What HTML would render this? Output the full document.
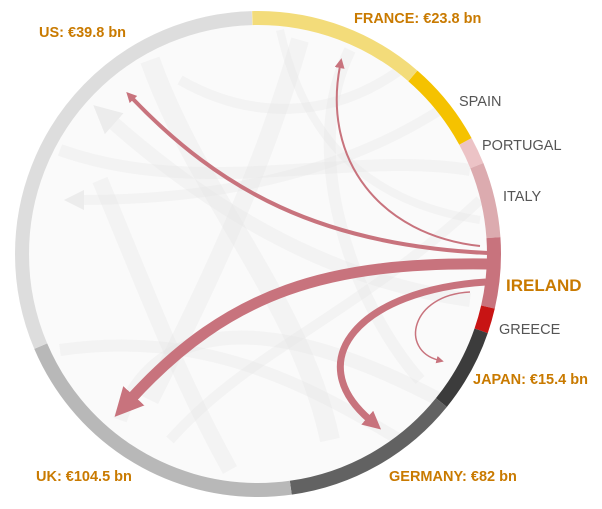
<!DOCTYPE html>
<html><head><style>
body{margin:0;background:#fff;width:602px;height:509px;overflow:hidden}
svg{display:block}
.l{font-family:"Liberation Sans",sans-serif;font-size:14.5px;fill:#555}
.o{font-family:"Liberation Sans",sans-serif;font-size:14.5px;font-weight:bold;fill:#c97a00}
</style></head><body>
<svg width="602" height="509" viewBox="0 0 602 509">
<defs>
<marker id="ah" viewBox="0 0 10 10" refX="2" refY="5" markerWidth="2.6" markerHeight="2.6" orient="auto" markerUnits="strokeWidth">
<path d="M0,0 L10,5 L0,10 z" fill="#c8737d"/></marker>
<marker id="ah2" viewBox="0 0 10 10" refX="2" refY="5" markerWidth="5" markerHeight="5" orient="auto" markerUnits="strokeWidth">
<path d="M0,0 L10,5 L0,10 z" fill="#c8737d"/></marker>
<marker id="ag" viewBox="0 0 10 10" refX="2" refY="5" markerWidth="2" markerHeight="2" orient="auto" markerUnits="strokeWidth">
<path d="M0,0 L10,5 L0,10 z" fill="#ececec"/></marker>
</defs>
<circle cx="258" cy="254" r="229" fill="#fafafa"/>
<g fill="none" stroke="#e4e4e4" stroke-opacity="0.3">
<path d="M470,300 C320,280 200,200 110,120" stroke-width="14" marker-end="url(#ag)"/>
<path d="M300,40 C260,180 200,300 150,400" stroke-width="18"/>
<path d="M150,60 C200,200 300,300 330,440" stroke-width="20"/>
<path d="M350,50 C300,150 350,300 420,380" stroke-width="12"/>
<path d="M60,150 C200,200 350,150 470,170" stroke-width="12"/>
<path d="M440,110 C330,180 200,200 80,200" stroke-width="10" marker-end="url(#ag)"/>
<path d="M230,470 C180,380 150,300 100,180" stroke-width="16"/>
<path d="M170,440 C250,350 350,320 480,200" stroke-width="10"/>
<path d="M60,350 C200,330 300,380 400,440" stroke-width="12"/>
<path d="M280,30 C300,120 350,200 480,220" stroke-width="8"/>
<path d="M120,420 C150,330 250,300 440,400" stroke-width="14"/>
<path d="M400,70 C330,120 250,120 180,80" stroke-width="10"/>
</g>
<g fill="none" stroke-width="14" transform="rotate(-90 258 254)">
<circle cx="258" cy="254" r="236" stroke="#f3dc7a" stroke-dasharray="175 1308" stroke-dashoffset="6.2"/>
<circle cx="258" cy="254" r="236" stroke="#f5c200" stroke-dasharray="84.4 1398.4" stroke-dashoffset="-168.9"/>
<circle cx="258" cy="254" r="236" stroke="#ecc3c6" stroke-dasharray="26.8 1456" stroke-dashoffset="-253.3"/>
<circle cx="258" cy="254" r="236" stroke="#dcabaf" stroke-dasharray="74.1 1408.7" stroke-dashoffset="-280.1"/>
<circle cx="258" cy="254" r="236" stroke="#c8737d" stroke-dasharray="70 1412.8" stroke-dashoffset="-354.2"/>
<circle cx="258" cy="254" r="236" stroke="#c81414" stroke-dasharray="24.7 1458.1" stroke-dashoffset="-424.2"/>
<circle cx="258" cy="254" r="236" stroke="#3c3c3c" stroke-dasharray="82.4 1400.4" stroke-dashoffset="-448.9"/>
<circle cx="258" cy="254" r="236" stroke="#626262" stroke-dasharray="177.1 1305.7" stroke-dashoffset="-531.3"/>
<circle cx="258" cy="254" r="236" stroke="#b8b8b8" stroke-dasharray="308.9 1173.9" stroke-dashoffset="-708.4"/>
<circle cx="258" cy="254" r="236" stroke="#dddddd" stroke-dasharray="459.2 1023.6" stroke-dashoffset="-1017.3"/>
</g>
<g fill="none" stroke="#c8737d">
<path d="M488,264 C330,262 230,290 130,400" stroke-width="11" marker-end="url(#ah)"/>
<path d="M486,282 C360,290 300,360 370,420" stroke-width="7" marker-end="url(#ah)"/>
<path d="M488,253 C320,245 220,190 132,98" stroke-width="4" marker-end="url(#ah)"/>
<path d="M480,246 C380,235 322,160 340,66" stroke-width="2" marker-end="url(#ah2)"/>
<path d="M470,292 C410,295 400,350 438,360" stroke-width="1.5" marker-end="url(#ah2)"/>
</g>
<text class="o" x="39" y="37">US: €39.8 bn</text>
<text class="o" x="354" y="23">FRANCE: €23.8 bn</text>
<text class="l" x="459" y="106">SPAIN</text>
<text class="l" x="482" y="150">PORTUGAL</text>
<text class="l" x="503" y="201">ITALY</text>
<text class="o" x="506" y="291" style="font-size:17px">IRELAND</text>
<text class="l" x="499" y="334">GREECE</text>
<text class="o" x="473" y="384">JAPAN: €15.4 bn</text>
<text class="o" x="389" y="481">GERMANY: €82 bn</text>
<text class="o" x="36" y="481">UK: €104.5 bn</text>
</svg>
</body></html>
